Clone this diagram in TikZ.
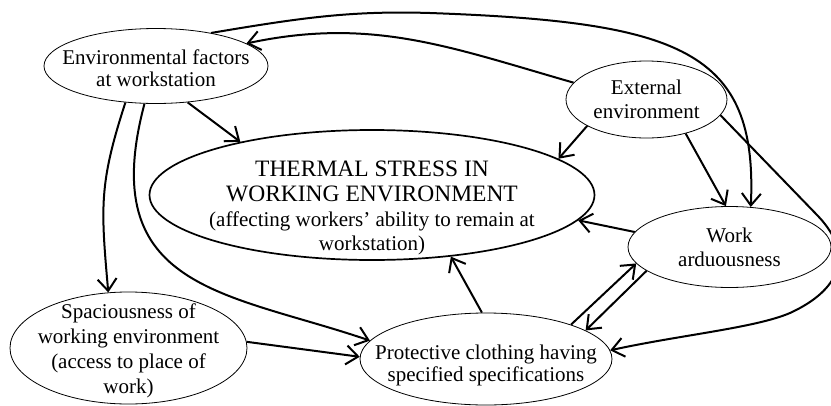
\documentclass[tikz,border=0pt]{standalone}
\usepackage{fontspec}
\setmainfont{Liberation Serif}
\usetikzlibrary{shapes.geometric,arrows.meta}
\newcommand\capsfont{\fontsize{23.5}{24}\selectfont}

\begin{document}
\begin{tikzpicture}[x=1pt,y=-1pt,
  factor/.style={ellipse, draw, line width=.8pt, inner sep=0pt},
  txt/.style={align=center, font=\fontsize{21}{24}\selectfont},
  link/.style={line width=2pt, -{Straight Barb[length=12pt,width=19pt]}}]
  \useasboundingbox (0,0) rectangle (831,405);
  % the six factors
  \node [factor, minimum width=224pt, minimum height=75pt,
  label={[txt, yshift=-2pt]center:{Environmental factors\\[-2pt]at workstation}}]
  (ef) at (156,66) {};
  \node [factor, minimum width=161pt, minimum height=77pt,
  label={[txt]center:{External\\environment}}]
  (ext) at (646.5,99.5) {};
  \node [factor, line width=1.7pt, minimum width=445pt, minimum height=130pt,
  label={[txt, yshift=-13pt]center:{\capsfont THERMAL STRESS IN\\[1pt]
  \capsfont WORKING ENVIRONMENT\\[1pt]
  (affecting workers' ability to remain at\\workstation)}}]
  (ts) at (372,195) {};
  \node [factor, minimum width=203pt, minimum height=81pt,
  label={[txt]center:{Work\\arduousness}}]
  (wa) at (729.5,247) {};
  \node [factor, minimum width=237pt, minimum height=112pt,
  label={[txt, yshift=-3pt]center:{Spaciousness of\\[1pt]working environment\\[1pt]
  (access to place of\\[1pt]work)}}]
  (sp) at (128.5,348) {};
  \node [factor, minimum width=252pt, minimum height=92pt,
  label={[txt, yshift=-6pt]center:{Protective clothing having\\[-2pt]specified specifications}}]
  (pc) at (486,359) {};
  % links
  \draw [link] (ef.-49) -- (ts.158);
  \draw [link] (ef.-130) to [out=-108, in=95, looseness=1.15] (sp.110);
  \draw [link] (ef.-107) .. controls (95,290) and (227,292) .. (pc.171);
  \draw [link] (ext.167) to [out=164, in=12] (ef.14);
  \draw [link] (ef.31) .. controls (300,18) and (350,10.5) .. (430,13)
  .. controls (680,22) and (758,50) .. (wa.62);
  \draw [link] (ext.204) -- (ts.11);
  \draw [link] (ext.-41) -- (wa.95);
  \draw [link] (ext.-12) -- (818,216) .. controls (855,255) and (840,290) .. (790,313)
  .. controls (755,328) and (680,335) .. (pc.4);
  \draw [link] (wa.171) -- (ts.-7);
  \draw [link] (pc.95) -- (ts.-38);
  \draw [link] (pc.22) -- (wa.190);
  \draw [link] (wa.196) -- (pc.16);
  \draw [link] (sp.3) -- (pc.179);
\end{tikzpicture}
\end{document}
